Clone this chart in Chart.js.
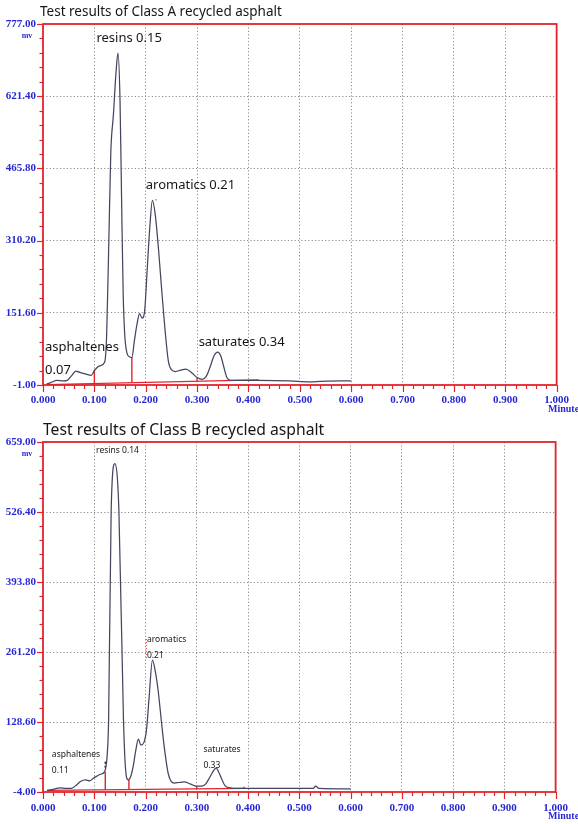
<!DOCTYPE html>
<html>
<head>
<meta charset="utf-8">
<script src="https://cdn.jsdelivr.net/npm/chart.js@4.4.1/dist/chart.umd.min.js"></script>
<style>
  html, body { margin: 0; padding: 0; background: #fff; }
  #wrap { position: relative; width: 578px; height: 824px; overflow: hidden; background: #fff; }
  .box { position: absolute; left: 0; width: 578px; }
  #boxA { top: 0; height: 420px; }
  #boxB { top: 410px; height: 414px; }
</style>
</head>
<body>
<div id="wrap">
  <div class="box" id="boxA"><canvas id="chartA"></canvas></div>
  <div class="box" id="boxB"><canvas id="chartB"></canvas></div>
</div>
<script>
// ---- shared x axis (minutes) ----
const xTicks = [0, 0.1, 0.2, 0.3, 0.4, 0.5, 0.6, 0.7, 0.8, 0.9, 1.0];
const xLabels = ["0.000", "0.100", "0.200", "0.300", "0.400", "0.500", "0.600", "0.700", "0.800", "0.900", "1.000"];

// ---- Class A ----
const titleA = "Test results of Class A recycled asphalt";
const yTicksA = [-1, 154.6, 310.2, 465.8, 621.4, 777];
const yLabelsA = ["-1.00", "151.60", "310.20", "465.80", "621.40", "777.00"];
const timeA = [0.007, 0.015, 0.027, 0.040, 0.047, 0.055, 0.064, 0.072, 0.082, 0.094, 0.100, 0.110, 0.120,
  0.124, 0.128, 0.132, 0.137, 0.142, 0.146, 0.150, 0.153, 0.156, 0.159, 0.163, 0.168, 0.173, 0.178, 0.183,
  0.188, 0.193, 0.198, 0.203, 0.208, 0.213, 0.219, 0.225, 0.231, 0.237, 0.244, 0.250, 0.258, 0.268, 0.278,
  0.290, 0.300, 0.310, 0.318, 0.326, 0.333, 0.340, 0.346, 0.352, 0.358, 0.365, 0.380, 0.420, 0.480, 0.520,
  0.540, 0.600];
const signalA = [1, 4, 9, 8, 9, 18, 29, 26, 23, 20, 30, 40, 48,
  110, 300, 500, 580, 670, 714, 610, 400, 200, 110, 70, 60, 58, 95, 130,
  153, 143, 160, 250, 340, 397, 362, 290, 205, 125, 51, 32, 28, 31, 33,
  25, 15, 11, 18, 40, 62, 70, 62, 38, 15, 9, 9, 9, 8, 6,
  7, 8];
// peak separation marks (red)
const baseTA = [0.008, 0.42];
const baseVA = [0, 10];
const dropTA = [0.100, 0.173, 0.300];
const dropLowA = [2, 4, 7];
const dropTopA = [30, 58, 15];
const notesA = [
  { text: "resins 0.15", t: 0.104, v: 747 },
  { text: "aromatics 0.21", t: 0.200, v: 430 },
  { text: "saturates 0.34", t: 0.303, v: 91 },
  { text: "asphaltenes", t: 0.004, v: 81 },
  { text: "0.07", t: 0.004, v: 31 },
];

// ---- Class B ----
const titleB = "Test results of Class B recycled asphalt";
const yTicksB = [-4, 128.6, 261.2, 393.8, 526.4, 659];
const yLabelsB = ["-4.00", "128.60", "261.20", "393.80", "526.40", "659.00"];
const timeB = [0.008, 0.020, 0.033, 0.045, 0.055, 0.065, 0.073, 0.083, 0.091, 0.098, 0.105, 0.113, 0.120,
  0.123, 0.1255, 0.128, 0.133, 0.140, 0.148, 0.157, 0.161, 0.166, 0.171, 0.176, 0.181, 0.186, 0.191,
  0.197, 0.202, 0.207, 0.2135, 0.219, 0.225, 0.232, 0.238, 0.244, 0.250, 0.256, 0.265, 0.275, 0.288,
  0.299, 0.310, 0.318, 0.326, 0.333, 0.338, 0.343, 0.348, 0.355, 0.365, 0.380, 0.420, 0.500, 0.527,
  0.532, 0.538, 0.600];
const signalB = [-1, 1, 4, 3, 3, 9, 16, 19, 17, 22, 26, 30, 34,
  45, 70, 133, 531, 618, 531, 133, 40, 19, 25, 45, 75, 96, 85,
  90, 115, 175, 246, 225, 185, 120, 70, 32, 16, 13, 14, 15, 11,
  7, 7, 12, 25, 37, 41, 33, 22, 8, 4, 3, 3, 3, 3,
  7, 3, 2];
const baseTB = [0.008, 0.392];
const baseVB = [-1, 3];
const dropTB = [0.1215, 0.1676, 0.300, 0.392];
const dropLowB = [0, 1, 2, 3];
const dropTopB = [34, 19, 7, 6];
const notesB = [
  { text: "resins 0.14", t: 0.1036, v: 643 },
  { text: "aromatics", t: 0.2027, v: 285 },
  { text: "0.21", t: 0.2027, v: 255 },
  { text: "saturates", t: 0.313, v: 76 },
  { text: "0.33", t: 0.313, v: 46 },
  { text: "asphaltenes", t: 0.0173, v: 67 },
  { text: "0.11", t: 0.0173, v: 37 },
];

// ---- colours ----
const RED = "#e3232b";
const BLUE = "#2727d4";
const TRACE = "#45455f";
const GRID = "#8c8c8c";
const INK = "#161616";
const TICK_FONT = "'Liberation Serif', serif";

function seg(t0, v0, t1, v1, color, width, dash) {
  return {
    data: [{ x: t0, y: v0 }, { x: t1, y: v1 }],
    borderColor: color, borderWidth: width, borderDash: dash || [],
    pointRadius: 0, order: 1,
  };
}

// frame, minor ticks, titles, unit labels, peak notes
const decor = {
  id: "decor",
  afterDraw(chart, args, o) {
    const { ctx, chartArea: a, scales } = chart;
    const xs = scales.x, ys = scales.y;
    ctx.save();
    ctx.strokeStyle = RED;
    // y ticks (outward, left)
    ctx.lineWidth = 1.2;
    const yMin = ys.min, yMax = ys.max;
    for (let i = 0; i <= 25; i++) {
      const p = Math.round(ys.getPixelForValue(yMin + (yMax - yMin) * i / 25)) + 0.5;
      const len = i % 5 === 0 ? 6 : 3.5;
      ctx.beginPath(); ctx.moveTo(a.left - len, p); ctx.lineTo(a.left, p); ctx.stroke();
    }
    // x ticks (downward)
    for (let i = 0; i <= 50; i++) {
      const p = Math.round(xs.getPixelForValue(i / 50)) + 0.5;
      const len = i % 5 === 0 ? 7 : 4;
      ctx.beginPath(); ctx.moveTo(p, a.bottom); ctx.lineTo(p, a.bottom + len); ctx.stroke();
    }
    // frame
    ctx.lineWidth = 1.8;
    ctx.strokeRect(a.left, a.top, a.right - a.left, a.bottom - a.top);

    // notes
    ctx.fillStyle = INK;
    ctx.textAlign = "left";
    ctx.textBaseline = "middle";
    ctx.font = o.noteFont;
    o.notes.forEach((n) => {
      ctx.fillText(n.text, xs.getPixelForValue(n.t), ys.getPixelForValue(n.v));
    });

    // title
    ctx.font = o.titleFont;
    ctx.fillStyle = INK;
    ctx.fillText(o.title, o.titleX, o.titleY);

    // unit labels
    ctx.fillStyle = BLUE;
    ctx.font = "bold 8px " + TICK_FONT;
    ctx.textAlign = "center";
    ctx.fillText("mv", 27, a.top + 12);
    ctx.font = "bold 10px " + TICK_FONT;
    ctx.textAlign = "left";
    ctx.fillText("Minutes", 548, a.bottom + 24);
    ctx.restore();
  },
};

function buildChart(id, s) {
  const datasets = [{
    data: s.time.map((t, i) => ({ x: t, y: s.signal[i] })),
    borderColor: TRACE, borderWidth: 1.25, pointRadius: 0,
    cubicInterpolationMode: "monotone", order: 0,
  }];
  datasets.push(seg(s.baseT[0], s.baseV[0], s.baseT[1], s.baseV[1], RED, 1.3));
  s.dropT.forEach((t, i) => datasets.push(seg(t, s.dropLow[i], t, s.dropTop[i], RED, 1.4)));
  (s.extra || []).forEach((e) => datasets.push(e));

  return new Chart(document.getElementById(id), {
    type: "line",
    data: { datasets },
    options: {
      responsive: true,
      maintainAspectRatio: false,
      animation: false,
      events: [],
      layout: { padding: { left: 0, right: s.rightPad, top: s.top, bottom: 0 } },
      plugins: {
        legend: { display: false },
        tooltip: { enabled: false },
        decor: { notes: s.notes, noteFont: s.noteFont, title: s.title, titleFont: s.titleFont, titleX: s.titleX, titleY: s.titleY },
      },
      scales: {
        x: {
          type: "linear", min: 0, max: 1,
          afterBuildTicks: (sc) => { sc.ticks = xTicks.map((v) => ({ value: v })); },
          afterFit: (sc) => { sc.height = s.axisH; },
          grid: {
            drawTicks: false, lineWidth: 1,
            color: (c) => (c.index === 0 || c.index === xTicks.length - 1 ? "rgba(0,0,0,0)" : GRID),
          },
          border: { display: false, dash: [1.2, 2.2] },
          ticks: {
            padding: s.xPad, color: BLUE, maxRotation: 0, autoSkip: false,
            font: { family: TICK_FONT, size: 11, weight: "bold" },
            callback: (v, i) => xLabels[i],
          },
        },
        y: {
          type: "linear", min: s.yTicks[0], max: s.yTicks[s.yTicks.length - 1],
          afterBuildTicks: (sc) => { sc.ticks = s.yTicks.map((v) => ({ value: v })); },
          afterFit: (sc) => { sc.width = 43; },
          grid: {
            drawTicks: false, lineWidth: 1,
            color: (c) => (c.index === 0 || c.index === s.yTicks.length - 1 ? "rgba(0,0,0,0)" : GRID),
          },
          border: { display: false, dash: [1.2, 2.2] },
          ticks: {
            padding: 7, color: BLUE,
            font: { family: TICK_FONT, size: 11, weight: "bold" },
            callback: (v, i) => s.yLabels[i],
          },
        },
      },
    },
    plugins: [decor],
  });
}

buildChart("chartA", {
  time: timeA, signal: signalA, yTicks: yTicksA, yLabels: yLabelsA,
  baseT: baseTA, baseV: baseVA, dropT: dropTA, dropLow: dropLowA, dropTop: dropTopA,
  notes: notesA, noteFont: "13px 'Noto Sans', sans-serif",
  title: titleA, titleFont: "13.5px 'Noto Sans', sans-serif", titleX: 40, titleY: 12,
  top: 24, axisH: 35, rightPad: 13, xPad: 9,
  extra: [seg(0.219, 398, 0.223, 398, INK, 1, [1, 2])],
});

buildChart("chartB", {
  time: timeB, signal: signalB, yTicks: yTicksB, yLabels: yLabelsB,
  baseT: baseTB, baseV: baseVB, dropT: dropTB, dropLow: dropLowB, dropTop: dropTopB,
  notes: notesB, noteFont: "8.5px 'Noto Sans', sans-serif",
  title: titleB, titleFont: "15.7px 'Noto Sans', sans-serif", titleX: 43, titleY: 21,
  top: 32, axisH: 32, rightPad: 14, xPad: 10,
  extra: [
    seg(0.1215, 42, 0.1215, 56, INK, 1.4, [2, 2]),
    seg(0.2015, 250, 0.2015, 288, RED, 1, [1, 2]),
  ],
});
</script>
</body>
</html>
